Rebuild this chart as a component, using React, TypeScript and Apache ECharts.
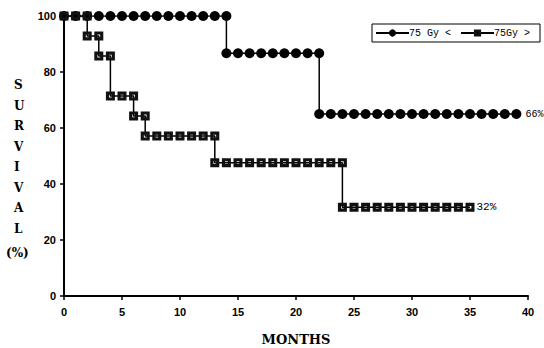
import React, { useEffect, useRef } from "react";
import * as echarts from "echarts";

// Series 1: "75 Gy <" (filled circles)
const lowMonths = [0,1,2,3,4,5,6,7,8,9,10,11,12,13,14,14,15,16,17,18,19,20,21,22,22,23,24,25,26,27,28,29,30,31,32,33,34,35,36,37,38,39];
const lowValues = [100,100,100,100,100,100,100,100,100,100,100,100,100,100,100,86.7,86.7,86.7,86.7,86.7,86.7,86.7,86.7,86.7,65,65,65,65,65,65,65,65,65,65,65,65,65,65,65,65,65,65];

// Series 2: "75Gy >" (squares)
const highMonths = [0,1,2,2,3,3,4,4,5,6,6,7,7,8,9,10,11,12,13,13,14,15,16,17,18,19,20,21,22,23,24,24,25,26,27,28,29,30,31,32,33,34,35];
const highValues = [100,100,100,92.9,92.9,85.7,85.7,71.4,71.4,71.4,64.3,64.3,57.1,57.1,57.1,57.1,57.1,57.1,57.1,47.6,47.6,47.6,47.6,47.6,47.6,47.6,47.6,47.6,47.6,47.6,47.6,31.7,31.7,31.7,31.7,31.7,31.7,31.7,31.7,31.7,31.7,31.7,31.7];

const seriesNames = ["75 Gy <", "75Gy >"];
const endLabels = ["66%", "32%"];
const yTicks = [0, 20, 40, 60, 80, 100];
const xTicks = [0, 5, 10, 15, 20, 25, 30, 35, 40];

const squareSymbol =
  "path://M0,0 L10,0 L10,10 L0,10 Z M3.5,3.5 L3.5,6.5 L6.5,6.5 L6.5,3.5 Z";

function buildData(months: number[], values: number[], label: string, dist: number, size: number) {
  return months.map((m, i) => {
    if (i === months.length - 1) {
      return {
        value: [m, values[i]],
        label: {
          show: true,
          position: "right",
          distance: dist,
          formatter: label,
          fontFamily: "Liberation Mono",
          fontSize: size,
          color: "#000000",
        },
      };
    }
    return [m, values[i]];
  });
}

export default function App() {
  const ref = useRef<HTMLDivElement>(null);
  useEffect(() => {
    if (!ref.current) return;
    const chart = echarts.init(ref.current, null, { renderer: "svg" });
    chart.setOption({
      animation: false,
      backgroundColor: "#fff",
      grid: { left: 64, right: 16, top: 16, bottom: 52, containLabel: false, outerBoundsMode: "none" },
      legend: {
        left: 372,
        top: 24,
        padding: [4, 10, 4, 3],
        borderColor: "#000",
        borderWidth: 1,
        itemGap: 9,
        itemWidth: 33,
        itemHeight: 9,
        data: seriesNames,
        textStyle: { fontFamily: "Liberation Mono", fontSize: 10, color: "#000", padding: [0, 0, 0, -5] },
      },
      xAxis: {
        type: "value",
        min: 0,
        max: 40,
        interval: 5,
        name: "MONTHS",
        nameLocation: "middle",
        nameGap: 37,
        nameTextStyle: { fontFamily: "DejaVu Serif", fontWeight: "bold", fontSize: 13, color: "#000" },
        axisLine: { lineStyle: { color: "#000", width: 2 } },
        axisTick: { show: true, length: 4, lineStyle: { color: "#000", width: 1.5 } },
        axisLabel: {
          color: "#000",
          fontFamily: "Liberation Sans",
          fontWeight: "bold",
          fontSize: 11,
          margin: 10,
          customValues: xTicks,
        },
        splitLine: { show: false },
      },
      yAxis: {
        type: "value",
        min: 0,
        max: 100,
        interval: 20,
        axisLine: { show: true, lineStyle: { color: "#000", width: 2 } },
        axisTick: { show: true, length: 4, lineStyle: { color: "#000", width: 1.5 } },
        axisLabel: {
          color: "#000",
          fontFamily: "Liberation Sans",
          fontWeight: "bold",
          fontSize: 11,
          margin: 8,
          customValues: yTicks,
        },
        splitLine: { show: false },
      },
      graphic: [
        {
          type: "text",
          left: 14,
          top: 75,
          style: {
            text: "S\nU\nR\nV\nI\nV\nA\nL",
            fontFamily: "DejaVu Serif",
            fontWeight: "bold",
            fontSize: 12,
            lineHeight: 20.5,
            fill: "#000",
            align: "center",
          },
        },
        {
          type: "text",
          left: 6,
          top: 247,
          style: {
            text: "(%)",
            fontFamily: "DejaVu Serif",
            fontWeight: "bold",
            fontSize: 12,
            fill: "#000",
          },
        },
      ],
      series: [
        {
          name: seriesNames[0],
          type: "line",
          data: buildData(lowMonths, lowValues, endLabels[0], 4, 10),
          symbol: "circle",
          symbolSize: 10,
          lineStyle: { color: "#000", width: 1.5 },
          itemStyle: { color: "#000" },
          label: { color: "#000" },
          z: 2,
        },
        {
          name: seriesNames[1],
          type: "line",
          data: buildData(highMonths, highValues, endLabels[1], 2, 11),
          symbol: squareSymbol,
          symbolSize: 9,
          lineStyle: { color: "#000", width: 1.5 },
          itemStyle: { color: "#111" },
          label: { color: "#000" },
          z: 3,
        },
      ],
    });
    return () => chart.dispose();
  }, []);
  return <div ref={ref} style={{ width: 544, height: 348, position: "absolute", left: 0, top: 0 }} />;
}
